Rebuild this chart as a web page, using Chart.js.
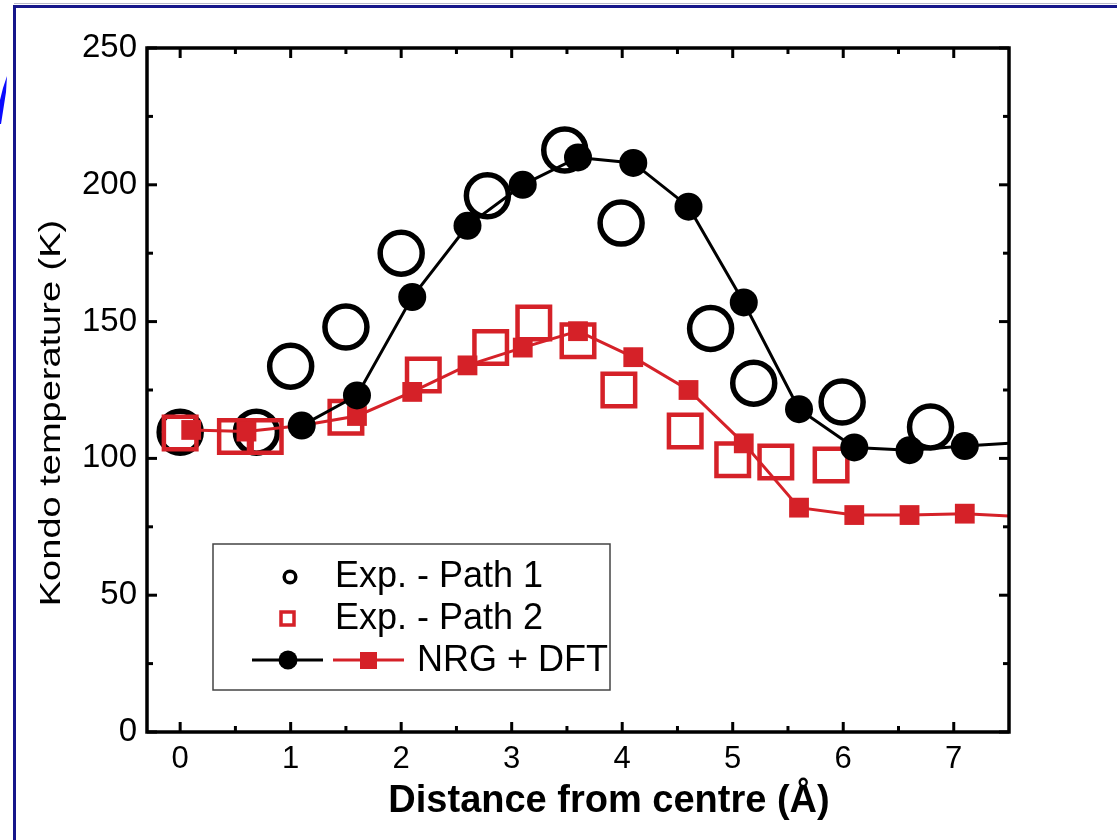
<!DOCTYPE html>
<html>
<head>
<meta charset="utf-8">
<script src="https://cdn.jsdelivr.net/npm/chart.js@4"></script>
<style>
  html, body { margin: 0; padding: 0; background: #fff; }
  canvas { display: block; }
</style>
</head>
<body>
<canvas id="kondo" width="1117" height="840"></canvas>
<script>
// Exp. - Path 1 (open circles)
const path1X = [0, 0.69, 1.0, 1.5, 2.0, 2.78, 3.48, 3.99, 4.8, 5.19, 5.99, 6.79];
const path1Y = [109.6, 109.6, 133.7, 148, 175, 196, 212.7, 186, 147.5, 127.5, 120.6, 111.5];

// Exp. - Path 2 (open squares)
const path2X = [0, 0.5, 0.77, 1.5, 2.2, 2.81, 3.2, 3.6, 3.97, 4.57, 5.0, 5.39, 5.89];
const path2Y = [109.3, 108, 108, 115, 130.5, 140.5, 149.5, 143, 125, 110, 99.5, 98.7, 97.6];

// NRG + DFT (the last point lies past the right edge, the line runs out of the frame)
const nrgBlackX = [1.1, 1.6, 2.1, 2.6, 3.1, 3.6, 4.1, 4.6, 5.1, 5.6, 6.1, 6.6, 7.1, 7.7];
const nrgBlackY = [112, 123, 159, 185, 200, 210, 208, 192, 157, 118, 104, 103, 104.5, 106];
const nrgRedX = [0.1, 0.6, 1.1, 1.6, 2.1, 2.6, 3.1, 3.6, 4.1, 4.6, 5.1, 5.6, 6.1, 6.6, 7.1, 7.7];
const nrgRedY = [110.4, 109.8, 112, 115.5, 124.3, 134, 140.5, 146.5, 137, 125, 105.5, 82, 79.3, 79.3, 79.8, 78.5];

const xTicks = [0, 1, 2, 3, 4, 5, 6, 7];
const xMinor = [0.5, 1.5, 2.5, 3.5, 4.5, 5.5, 6.5];
const yTicks = [0, 50, 100, 150, 200, 250];
const yMinor = [25, 75, 125, 175, 225];

const RED = '#d52128';
const FONT = "'Liberation Sans', Arial, sans-serif";

const pts = (xs, ys) => xs.map((x, i) => ({ x: x, y: ys[i] }));

// frame + inward ticks on all four sides
const frame = {
  id: 'frame',
  afterDraw(chart) {
    const { ctx, chartArea: a, scales: { x, y } } = chart;
    ctx.save();
    ctx.strokeStyle = '#000';
    ctx.lineWidth = 3;
    ctx.lineCap = 'butt';
    const tick = (x1, y1, x2, y2) => { ctx.beginPath(); ctx.moveTo(x1, y1); ctx.lineTo(x2, y2); ctx.stroke(); };
    xTicks.concat(xMinor).forEach(v => {
      const len = xTicks.includes(v) ? 10 : 6;
      const px = x.getPixelForValue(v);
      tick(px, a.bottom, px, a.bottom - len);
      tick(px, a.top, px, a.top + len);
    });
    yTicks.concat(yMinor).forEach(v => {
      const len = yTicks.includes(v) ? 10 : 6;
      const py = y.getPixelForValue(v);
      tick(a.left, py, a.left + len, py);
      tick(a.right, py, a.right - len, py);
    });
    ctx.lineWidth = 3.5;
    ctx.strokeRect(a.left, a.top, a.right - a.left, a.bottom - a.top);
    ctx.restore();
  }
};

// axis titles
const titles = {
  id: 'titles',
  afterDraw(chart) {
    const { ctx } = chart;
    ctx.save();
    ctx.fillStyle = '#000';
    ctx.textAlign = 'center';
    ctx.textBaseline = 'middle';
    ctx.font = 'bold 38px ' + FONT;
    ctx.fillText('Distance from centre (Å)', 609, 802);
    ctx.translate(52, 413);
    ctx.rotate(-Math.PI / 2);
    ctx.scale(1.31, 1);
    ctx.font = '29px ' + FONT;
    ctx.fillText('Kondo temperature (K)', 0, 0);
    ctx.restore();
  }
};

// boxed legend inside the plot
const legendBox = {
  id: 'legendBox',
  afterDraw(chart) {
    const { ctx } = chart;
    ctx.save();
    ctx.fillStyle = '#fff';
    ctx.fillRect(213, 544, 397, 146);
    ctx.strokeStyle = '#444';
    ctx.lineWidth = 1.5;
    ctx.strokeRect(213, 544, 397, 146);

    ctx.lineWidth = 3.5;
    ctx.strokeStyle = '#000';
    ctx.beginPath(); ctx.arc(290, 577, 5.8, 0, Math.PI * 2); ctx.stroke();
    ctx.strokeStyle = RED;
    ctx.strokeRect(281, 612, 13, 13);

    ctx.lineWidth = 3;
    ctx.strokeStyle = '#000';
    ctx.beginPath(); ctx.moveTo(252, 660); ctx.lineTo(323, 660); ctx.stroke();
    ctx.fillStyle = '#000';
    ctx.beginPath(); ctx.arc(288, 660, 9.5, 0, Math.PI * 2); ctx.fill();
    ctx.strokeStyle = RED;
    ctx.beginPath(); ctx.moveTo(333, 660); ctx.lineTo(404, 660); ctx.stroke();
    ctx.fillStyle = RED;
    ctx.fillRect(360, 652, 17, 17);

    ctx.fillStyle = '#000';
    ctx.font = '36px ' + FONT;
    ctx.textBaseline = 'middle';
    ctx.textAlign = 'left';
    ctx.fillText('Exp. - Path 1', 335, 577);
    ctx.fillText('Exp. - Path 2', 335, 619);
    ctx.fillText('NRG + DFT', 417, 661);
    ctx.restore();
  }
};

// page decoration: blue frame and a stray italic stroke at the left
const page = {
  id: 'page',
  beforeDraw(chart) {
    const { ctx } = chart;
    ctx.save();
    ctx.fillStyle = '#fff';
    ctx.fillRect(0, 0, chart.width, chart.height);
    ctx.fillStyle = '#b8b8c8';
    ctx.fillRect(14, 3, 1103, 1);
    ctx.fillStyle = '#16168a';
    ctx.fillRect(14, 5, 1103, 3);
    ctx.fillRect(13, 5, 3, 835);
    ctx.fillStyle = '#0a0aff';
    ctx.beginPath();
    ctx.moveTo(3, 88); ctx.lineTo(7, 76); ctx.lineTo(6, 92); ctx.lineTo(1, 124); ctx.lineTo(0, 124); ctx.lineTo(0, 100);
    ctx.closePath();
    ctx.fill();
    ctx.restore();
  }
};

new Chart(document.getElementById('kondo'), {
  type: 'scatter',
  data: {
    datasets: [
      {
        label: 'Exp. - Path 1',
        data: pts(path1X, path1Y),
        order: 4,
        pointStyle: 'circle',
        pointRadius: 21,
        pointBorderWidth: 5.5,
        borderColor: '#000',
        backgroundColor: 'rgba(0,0,0,0)',
        showLine: false
      },
      {
        label: 'Exp. - Path 2',
        data: pts(path2X, path2Y),
        order: 3,
        pointStyle: 'rect',
        pointRadius: 23,
        pointBorderWidth: 4.5,
        borderColor: RED,
        backgroundColor: 'rgba(0,0,0,0)',
        showLine: false
      },
      {
        label: 'NRG + DFT',
        data: pts(nrgRedX, nrgRedY),
        order: 2,
        showLine: true,
        borderColor: RED,
        borderWidth: 3,
        pointStyle: 'rect',
        pointRadius: 14,
        pointBorderWidth: 0,
        pointBackgroundColor: RED,
        clip: 0
      },
      {
        label: 'NRG + DFT',
        data: pts(nrgBlackX, nrgBlackY),
        order: 1,
        showLine: true,
        borderColor: '#000',
        borderWidth: 3,
        pointStyle: 'circle',
        pointRadius: 14,
        pointBorderWidth: 0,
        pointBackgroundColor: '#000',
        clip: 0
      }
    ]
  },
  options: {
    responsive: false,
    animation: false,
    events: [],
    layout: { padding: { left: 0, top: 48, right: 108, bottom: 0 } },
    plugins: {
      legend: { display: false },
      tooltip: { enabled: false }
    },
    scales: {
      x: {
        type: 'linear',
        min: -0.3,
        max: 7.5,
        grid: { display: false, drawTicks: false },
        border: { display: false },
        ticks: {
          stepSize: 1,
          includeBounds: false,
          padding: 9,
          color: '#000',
          font: { family: FONT, size: 31 }
        },
        afterFit(scale) { scale.height = 108; }
      },
      y: {
        min: 0,
        max: 250,
        grid: { display: false, drawTicks: false },
        border: { display: false },
        ticks: {
          stepSize: 50,
          padding: 10,
          color: '#000',
          font: { family: FONT, size: 33 }
        },
        afterFit(scale) { scale.width = 147; }
      }
    }
  },
  plugins: [page, frame, titles, legendBox]
});
</script>
</body>
</html>
